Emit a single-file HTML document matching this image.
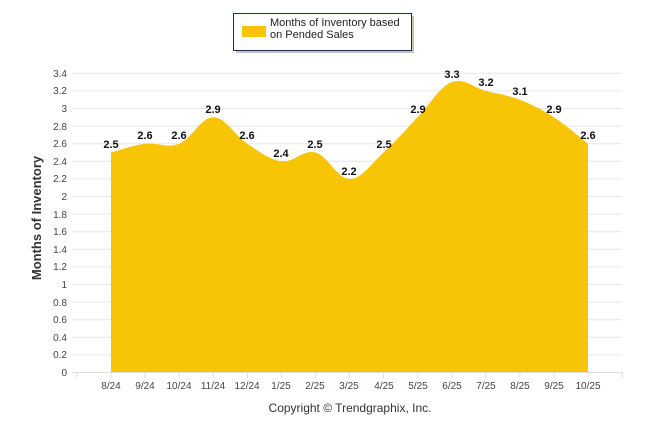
<!DOCTYPE html>
<html><head><meta charset="utf-8"><style>
body{margin:0;background:#fff;width:646px;height:434px;overflow:hidden}
svg text{font-family:"Liberation Sans",sans-serif}
</style></head><body>
<svg width="646" height="434" xmlns="http://www.w3.org/2000/svg">
<g stroke="#e6e6e6" stroke-width="1">
<line x1="72" x2="622" y1="372.5" y2="372.5"/><line x1="72" x2="622" y1="354.9" y2="354.9"/>
<line x1="72" x2="622" y1="337.3" y2="337.3"/><line x1="72" x2="622" y1="319.7" y2="319.7"/>
<line x1="72" x2="622" y1="302.1" y2="302.1"/><line x1="72" x2="622" y1="284.5" y2="284.5"/>
<line x1="72" x2="622" y1="266.9" y2="266.9"/><line x1="72" x2="622" y1="249.3" y2="249.3"/>
<line x1="72" x2="622" y1="231.7" y2="231.7"/><line x1="72" x2="622" y1="214.1" y2="214.1"/>
<line x1="72" x2="622" y1="196.5" y2="196.5"/><line x1="72" x2="622" y1="178.9" y2="178.9"/>
<line x1="72" x2="622" y1="161.3" y2="161.3"/><line x1="72" x2="622" y1="143.7" y2="143.7"/>
<line x1="72" x2="622" y1="126.1" y2="126.1"/><line x1="72" x2="622" y1="108.5" y2="108.5"/>
<line x1="72" x2="622" y1="90.9" y2="90.9"/><line x1="72" x2="622" y1="73.3" y2="73.3"/>
</g>
<path id="area" fill="#F7C506" d=""/>
<g stroke="#ddd"><line x1="72" x2="622" y1="372.5" y2="372.5"/></g>
<g id="ticks" stroke="#ddd"></g>
<g font-size="10" fill="#444" text-anchor="end">
<text x="67" y="376">0</text><text x="67" y="358">0.2</text><text x="67" y="341">0.4</text>
<text x="67" y="323">0.6</text><text x="67" y="306">0.8</text><text x="67" y="288">1</text>
<text x="67" y="270">1.2</text><text x="67" y="253">1.4</text><text x="67" y="235">1.6</text>
<text x="67" y="218">1.8</text><text x="67" y="200">2</text><text x="67" y="182">2.2</text>
<text x="67" y="165">2.4</text><text x="67" y="147">2.6</text><text x="67" y="130">2.8</text>
<text x="67" y="112">3</text><text x="67" y="94">3.2</text><text x="67" y="77">3.4</text>
</g>
<g font-size="10" fill="#444" text-anchor="middle">
<text x="111" y="389">8/24</text><text x="145" y="389">9/24</text><text x="179" y="389">10/24</text>
<text x="213" y="389">11/24</text><text x="247" y="389">12/24</text><text x="281" y="389">1/25</text>
<text x="315" y="389">2/25</text><text x="349" y="389">3/25</text><text x="384" y="389">4/25</text>
<text x="418" y="389">5/25</text><text x="452" y="389">6/25</text><text x="486" y="389">7/25</text>
<text x="520" y="389">8/25</text><text x="554" y="389">9/25</text><text x="588" y="389">10/25</text>
</g>
<g font-size="11" font-weight="bold" fill="#111" text-anchor="middle">
<text x="111" y="148">2.5</text><text x="145" y="139">2.6</text><text x="179" y="139">2.6</text>
<text x="213" y="113">2.9</text><text x="247" y="139">2.6</text><text x="281" y="157">2.4</text>
<text x="315" y="148">2.5</text><text x="349" y="175">2.2</text><text x="384" y="148">2.5</text>
<text x="418" y="113">2.9</text><text x="452" y="78">3.3</text><text x="486" y="86">3.2</text>
<text x="520" y="95">3.1</text><text x="554" y="113">2.9</text><text x="588" y="139">2.6</text>
</g>
<text transform="translate(41,218) rotate(-90)" font-size="13" font-weight="bold" fill="#333" text-anchor="middle">Months of Inventory</text>
<rect x="236" y="16" width="178" height="37" fill="#888" opacity="0.5"/>
<rect x="233.5" y="13.5" width="178" height="37" fill="#fff" stroke="#1f3050" stroke-width="1"/>
<rect x="242" y="26" width="24" height="11" fill="#F7C506"/>
<text x="270" y="26" font-size="11" fill="#222">Months of Inventory based</text>
<text x="270" y="38" font-size="11" fill="#222">on Pended Sales</text>
<text x="350" y="412" font-size="12" fill="#333" text-anchor="middle">Copyright © Trendgraphix, Inc.</text>
</svg>
<script>
var v=[2.5,2.6,2.6,2.9,2.6,2.4,2.5,2.2,2.5,2.9,3.3,3.2,3.1,2.9,2.6];
var p=v.map(function(d,i){return [111+i*34.07,372.5-d*88];});
var d="M"+p[0][0]+",372.5 L"+p[0][0]+","+p[0][1];
for(var i=0;i<p.length-1;i++){var a=p[i-1]||p[i],b=p[i],c=p[i+1],e=p[i+2]||c;var t=0.18;
d+=" C"+(b[0]+(c[0]-a[0])*t)+","+(b[1]+(c[1]-a[1])*t)+" "+(c[0]-(e[0]-b[0])*t)+","+(c[1]-(e[1]-b[1])*t)+" "+c[0]+","+c[1];}
d+=" L"+p[p.length-1][0]+",372.5 Z";
document.getElementById("area").setAttribute("d",d);
var g=document.getElementById("ticks"),s="";
for(var k=0;k<=16;k++){var x=77+k*34.07;s+='<line x1="'+x+'" x2="'+x+'" y1="372" y2="378"/>';}
g.innerHTML=s;
</script>
</body></html>
